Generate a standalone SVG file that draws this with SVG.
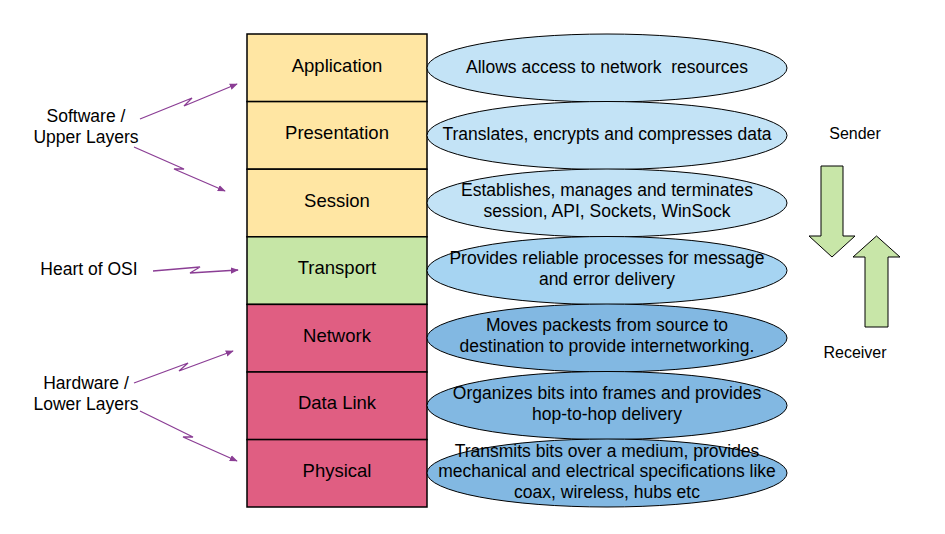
<svg xmlns="http://www.w3.org/2000/svg" width="945" height="534" viewBox="0 0 945 534">
<defs>
<style>
text{font-family:"Liberation Sans",Arial,sans-serif;fill:#000;text-anchor:middle;dominant-baseline:central;white-space:pre}
.lyr{font-size:18.5px}
.desc{font-size:17.5px}
.lbl{font-size:17.5px}
.sr{font-size:16px}
.box{stroke:#000;stroke-width:1.5}
.ell{stroke:#000;stroke-width:1}
.sw{fill:#FFE6A3}.tr{fill:#C6E6A6}.hw{fill:#E05E82}
.e1{fill:#C3E3F6}.e2{fill:#A6D4F2}.e3{fill:#82B8E2}
.conn{fill:none;stroke:#8B3E95;stroke-width:1.3}
.big{fill:#C8E6A8;stroke:#000;stroke-width:1}
</style>
<marker id="ah" viewBox="0 0 10 10" refX="9" refY="5" markerWidth="8" markerHeight="8" markerUnits="userSpaceOnUse" orient="auto">
<path d="M0,1 L10,5 L0,9 Z" fill="#8B3E95"/>
</marker>
</defs>
<rect width="945" height="534" fill="#fff"/>
<g id="application"><rect class="box sw" x="247" y="34" width="180" height="67.6"/><text class="lyr" x="337" y="65">Application</text></g>
<g id="presentation"><rect class="box sw" x="247" y="101.6" width="180" height="67.6"/><text class="lyr" x="337" y="132">Presentation</text></g>
<g id="session"><rect class="box sw" x="247" y="169.2" width="180" height="67.6"/><text class="lyr" x="337" y="200">Session</text></g>
<g id="transport"><rect class="box tr" x="247" y="236.8" width="180" height="67.6"/><text class="lyr" x="337" y="267">Transport</text></g>
<g id="network"><rect class="box hw" x="247" y="304.4" width="180" height="67.6"/><text class="lyr" x="337" y="335">Network</text></g>
<g id="datalink"><rect class="box hw" x="247" y="372" width="180" height="67.6"/><text class="lyr" x="337" y="402">Data Link</text></g>
<g id="physical"><rect class="box hw" x="247" y="439.6" width="180" height="67.4"/><text class="lyr" x="337" y="470">Physical</text></g>

<g id="d-application"><ellipse class="ell e1" cx="607" cy="68" rx="180" ry="34"/><text class="desc" x="607" y="67">Allows access to network  resources</text></g>
<g id="d-presentation"><ellipse class="ell e1" cx="607" cy="135.5" rx="180" ry="34"/><text class="desc" x="607" y="134">Translates, encrypts and compresses data</text></g>
<g id="d-session"><ellipse class="ell e1" cx="607" cy="203" rx="180" ry="34"/><text class="desc" x="607" y="190">Establishes, manages and terminates</text><text class="desc" x="607" y="211">session, API, Sockets, WinSock</text></g>
<g id="d-transport"><ellipse class="ell e2" cx="607" cy="270.5" rx="180" ry="34"/><text class="desc" x="607" y="258">Provides reliable processes for message</text><text class="desc" x="607" y="279">and error delivery</text></g>
<g id="d-network"><ellipse class="ell e3" cx="607" cy="338" rx="180" ry="34"/><text class="desc" x="607" y="325">Moves packests from source to</text><text class="desc" x="607" y="346">destination to provide internetworking.</text></g>
<g id="d-datalink"><ellipse class="ell e3" cx="607" cy="405.5" rx="180" ry="34"/><text class="desc" x="607" y="393">Organizes bits into frames and provides</text><text class="desc" x="607" y="414">hop-to-hop delivery</text></g>
<g id="d-physical"><ellipse class="ell e3" cx="607" cy="473" rx="180" ry="34"/><text class="desc" x="607" y="451">Transmits bits over a medium, provides</text><text class="desc" x="607" y="471">mechanical and electrical specifications like</text><text class="desc" x="607" y="492">coax, wireless, hubs etc</text></g>

<g id="software-label"><text class="lbl" x="86" y="116">Software /</text><text class="lbl" x="86" y="137">Upper Layers</text></g>
<g id="heart-label"><text class="lbl" x="89" y="269">Heart of OSI</text></g>
<g id="hardware-label"><text class="lbl" x="86" y="383">Hardware /</text><text class="lbl" x="86" y="404">Lower Layers</text></g>

<g id="sender"><text class="sr" x="855" y="133">Sender</text><path class="big" d="M821,166 H843 V236 H855 L832,257 L809,236 H821 Z"/></g>
<g id="receiver"><text class="sr" x="855" y="352">Receiver</text><path class="big" d="M865,327 H888 V257 H900 L876.5,236 L853,257 H865 Z"/></g>

<g id="connectors">
<polyline class="conn" marker-end="url(#ah)" points="140,119 192,98 184,106 237,84"/>
<polyline class="conn" marker-end="url(#ah)" points="134,147 184,169 174,169 225,191"/>
<polyline class="conn" marker-end="url(#ah)" points="153,271 200,267 190,273 238,270"/>
<polyline class="conn" marker-end="url(#ah)" points="134,383 188,363 179,371 233,351"/>
<polyline class="conn" marker-end="url(#ah)" points="140,411 193,437 183,437 237,461"/>
</g>
</svg>
